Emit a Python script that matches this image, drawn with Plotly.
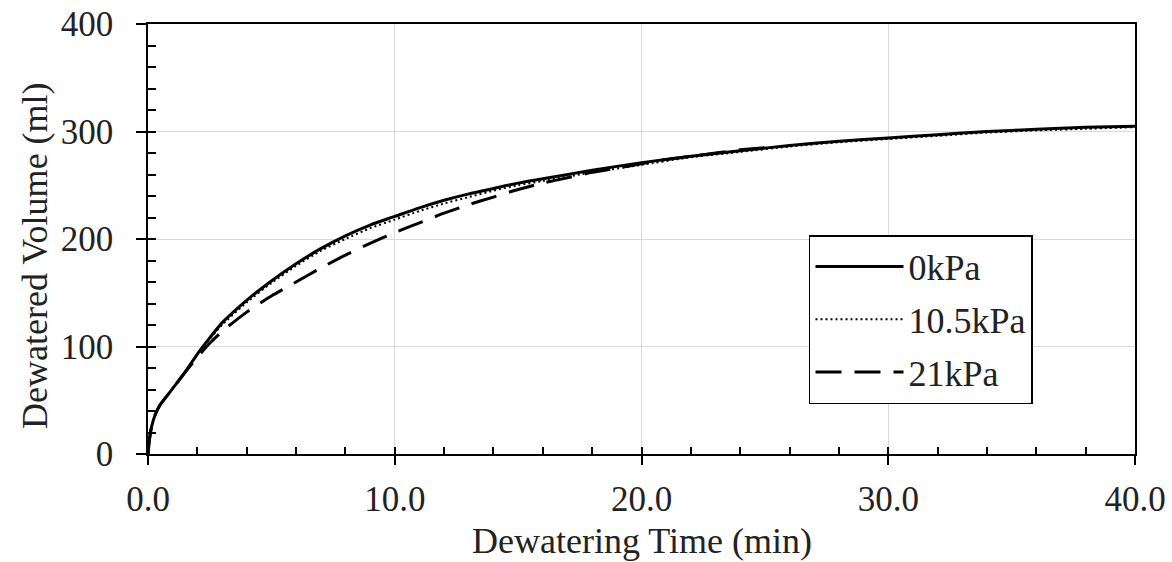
import plotly.graph_objects as go

# ---- data ----
t_0kpa = [0, 0.05, 0.15, 0.3, 0.5, 0.8, 1.0, 1.5, 2.0, 2.5, 3.0, 4, 5, 6, 7, 8, 9, 10, 11, 12, 13,
          14, 15, 16, 18, 20, 22, 24, 26, 28, 30, 32, 34, 36, 38, 40]
v_0kpa = [0, 12, 26, 37, 46, 55, 61, 76, 93, 108, 122, 143, 161, 177, 191, 203, 213, 221, 229, 236, 242,
          247, 252, 256, 264, 271, 277, 282, 287, 291, 294, 297, 300, 302, 304, 305]

t_10kpa = [0, 0.05, 0.15, 0.3, 0.5, 0.8, 1.0, 1.5, 2.0, 2.5, 3.0, 4, 5, 6, 7, 8, 9, 10, 11, 12, 13,
           14, 15, 16, 18, 20, 22, 24, 26, 28, 30, 32, 34, 36, 38, 40]
v_10kpa = [0, 12, 26, 37, 46, 55, 61, 76, 93, 107, 120, 141, 159, 175, 189, 200, 210, 218, 226, 233, 239,
           245, 250, 254, 262, 269, 276, 281, 286, 290, 293, 296, 299, 301, 302.5, 304]

t_21kpa = [0, 0.05, 0.15, 0.3, 0.5, 0.8, 1.0, 1.5, 2.0, 2.5, 3.0, 4, 5, 6, 7, 8, 9, 10, 11, 12, 13,
           14, 15, 16, 17, 18, 19, 20, 21, 22, 23, 24, 25]
v_21kpa = [0, 12, 26, 37, 46, 55, 61, 76, 90, 103, 114, 132, 147, 160, 173, 185, 196, 206, 215, 224, 232,
           239, 246, 252, 257, 262, 266, 270, 274, 277, 280, 283, 285]

series_names = ["0kPa", "10.5kPa", "21kPa"]
x_title = "Dewatering Time (min)"
y_title = "Dewatered Volume (ml)"

FONT = "Liberation Serif, Times New Roman, serif"
TICK_FS = 35
FS = 36
TXT = "#222"

fig = go.Figure()
fig.add_trace(go.Scatter(x=t_0kpa, y=v_0kpa, mode="lines", name=series_names[0],
                         line=dict(color="black", width=3, shape="spline", smoothing=0.6), legendgroup="a"))
fig.add_trace(go.Scatter(x=t_10kpa, y=v_10kpa, mode="lines", name=series_names[1],
                         line=dict(color="black", width=2, dash="2px,3px", shape="spline", smoothing=0.6),
                         legendgroup="b"))
fig.add_trace(go.Scatter(x=t_21kpa, y=v_21kpa, mode="lines", name=series_names[2],
                         line=dict(color="black", width=3, dash="26px,13px", shape="spline", smoothing=0.6),
                         legendgroup="c"))
# empty trace to carry the overlay axes with inside minor ticks
fig.add_trace(go.Scatter(x=[], y=[], xaxis="x2", yaxis="y2", showlegend=False, hoverinfo="skip"))

fig.update_layout(
    width=1172, height=562,
    margin=dict(l=148, r=37, t=24, b=108),
    paper_bgcolor="white", plot_bgcolor="white",
    font=dict(family=FONT, size=TICK_FS, color=TXT),
    showlegend=True,
    legend=dict(x=0.6697, y=0.5093, xanchor="left", yanchor="top",
                bordercolor="black", borderwidth=1.5, bgcolor="white",
                font=dict(family=FONT, size=FS, color=TXT),
                itemwidth=88, tracegroupgap=3),
    xaxis=dict(range=[0, 40], dtick=10, tickformat=".1f", automargin=False,
               ticks="outside", ticklen=9, tickwidth=1.5, tickcolor="black",
               showline=True, linecolor="black", linewidth=1.5, mirror=True,
               showgrid=True, gridcolor="#d9d9d9", gridwidth=1, zeroline=False,
               ticklabelstandoff=4),
    yaxis=dict(range=[0, 400], dtick=100, automargin=False,
               ticks="outside", ticklen=10, tickwidth=1.5, tickcolor="black",
               showline=True, linecolor="black", linewidth=1.5, mirror=True,
               showgrid=True, gridcolor="#d9d9d9", gridwidth=1, zeroline=False,
               ticklabelstandoff=16),
    xaxis2=dict(range=[0, 40], dtick=2, overlaying="x", anchor="y2", side="bottom", automargin=False,
                ticks="inside", ticklen=7, tickwidth=1.5, tickcolor="black",
                showticklabels=False, showgrid=False, showline=False, zeroline=False),
    yaxis2=dict(range=[0, 400], dtick=20, overlaying="y", anchor="x2", side="left", automargin=False,
                ticks="inside", ticklen=8, tickwidth=1.5, tickcolor="black",
                showticklabels=False, showgrid=False, showline=False, zeroline=False),
    annotations=[
        dict(text=x_title, xref="paper", yref="paper", x=0.5, y=0, yshift=-87,
             xanchor="center", yanchor="middle", showarrow=False,
             font=dict(family=FONT, size=FS, color=TXT)),
        dict(text=y_title, xref="paper", yref="paper", x=0, y=0.4605, xshift=-113,
             xanchor="center", yanchor="middle", textangle=-90, showarrow=False,
             font=dict(family=FONT, size=FS, color=TXT)),
    ],
)

fig.write_html("out.html", config={"displayModeBar": False},
               post_script="document.body.style.margin='0';document.body.style.overflow='hidden';")
